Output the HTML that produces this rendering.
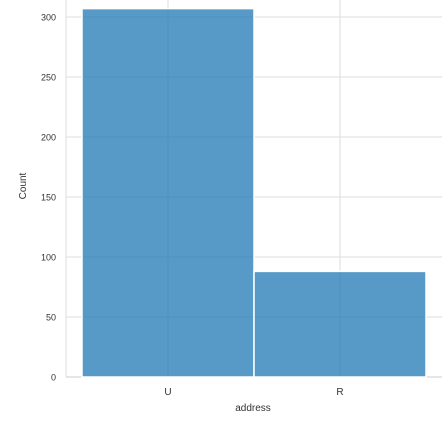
<!DOCTYPE html>
<html><head><meta charset="utf-8"><style>
body{margin:0;background:#fff;font-family:"Liberation Sans",Arial,sans-serif}
svg text{font-family:"Liberation Sans",Arial,sans-serif;fill:#333}
</style></head><body>
<svg id="chart" width="446" height="432">
<g id="grid"></g><g id="bars"></g><g id="axes"></g>
<text x="253" y="411" font-size="10" text-anchor="middle">address</text>
<text transform="translate(26,186) rotate(-90)" font-size="10" text-anchor="middle">Count</text>
</svg>
<script>
const categories = ["U", "R"];
const counts = [307, 88];
const yTicks = [0, 50, 100, 150, 200, 250, 300];
const NS = "http://www.w3.org/2000/svg";
const y0 = 377, pxPer = 1.2;
function yScale(v){return y0 - v*pxPer;}
function xScale(i){return 168 + 172*i;}
const grid = document.getElementById('grid'), bars = document.getElementById('bars'), axes = document.getElementById('axes');
function mk(tag, attrs, parent){const e=document.createElementNS(NS,tag);for(const k in attrs)e.setAttribute(k,attrs[k]);parent.appendChild(e);return e;}
yTicks.forEach(t=>{
  const l = mk('line',{x1:66,x2:442,y1:yScale(t),y2:yScale(t),stroke:t===0?'#ccc':'#ddd','stroke-width':1},grid);
  
  
  const tx = mk('text',{x:56,y:yScale(t)+3.5,'font-size':9,'text-anchor':'end'},axes);
  tx.textContent = t;
  
  
});
mk('line',{x1:66,x2:66,y1:0,y2:377,stroke:'#ddd'},grid);
categories.forEach((c,i)=>{
  const l = mk('line',{x1:xScale(i),x2:xScale(i),y1:0,y2:377,stroke:'#ddd'},grid);
  
  
  const r = mk('rect',{x:xScale(i)-86,y:yScale(counts[i]),width:172,height:counts[i]*pxPer,fill:'rgba(31,119,180,0.75)',stroke:'#fff','stroke-width':1.5},bars);
  
  
  const tx = mk('text',{x:xScale(i),y:395,'font-size':10,'text-anchor':'middle'},axes);
  tx.textContent = c;
  
  
});
</script>
</body></html>
